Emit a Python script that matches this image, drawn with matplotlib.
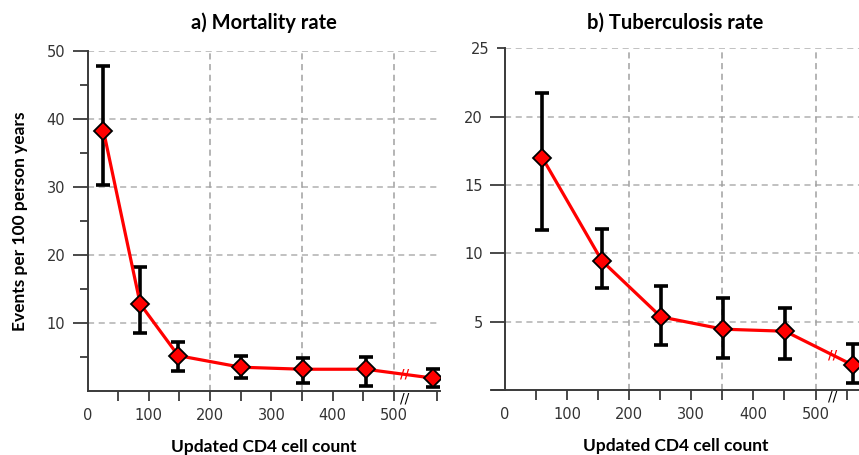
import numpy as np
import matplotlib
matplotlib.use("Agg")
import matplotlib.pyplot as plt

# values
cd4_a = [26, 86, 148, 250, 351, 454, 563]
mort = [38.3, 12.8, 5.2, 3.5, 3.2, 3.2, 1.9]
mort_lo = [30.3, 8.5, 3.0, 1.95, 1.2, 0.7, 0.55]
mort_hi = [47.8, 18.3, 7.25, 5.15, 4.8, 5.05, 3.3]

cd4_b = [60, 156, 251, 351, 451, 561]
tb = [17.0, 9.45, 5.35, 4.45, 4.3, 1.8]
tb_lo = [11.7, 7.45, 3.3, 2.35, 2.3, 0.5]
tb_hi = [21.7, 11.75, 7.6, 6.7, 6.0, 3.35]

xlabels = [0, 100, 200, 300, 400, 500]
vgrid = [200, 350, 500]

bold_font = "Lato"
tick_col = "#333333"
axis_col = "#3a3a3a"

fig = plt.figure(figsize=(8.59, 4.55), dpi=100)
W, H = 859.0, 455.0
ax_a = fig.add_axes([87.5 / W, 64 / H, (440 - 87.5) / W, 340 / H])
ax_b = fig.add_axes([492 / W, 65 / H, (859 - 492) / W, (390 - 48.3) / H])


def draw_panel(ax, x, y, lo, hi, xlim, ylim, hgrid, break_x, end_tick, title, tpad):
    x = np.array(x); y = np.array(y)
    lo = np.array(lo); hi = np.array(hi)
    ax.set_xlim(xlim); ax.set_ylim(ylim)
    for s in ["top", "right"]:
        ax.spines[s].set_visible(False)
    ax.spines["left"].set_position(("data", 0))
    for s in ["left", "bottom"]:
        ax.spines[s].set_color(axis_col)
        ax.spines[s].set_linewidth(1.4)
        ax.spines[s].set_zorder(1)
    ax.spines["left"].set_bounds(0, ylim[1])

    # grid
    ax.hlines(hgrid, 0, xlim[1], colors="#b0b0b0", linestyles=(0, (4, 3)), linewidth=1.1, zorder=0)
    ax.vlines(vgrid, 0, ylim[1], colors="#a0a0a0", linestyles=(0, (4, 3)), linewidth=1.1, zorder=0)

    ax.errorbar(x, y, yerr=[y - lo, hi - y], fmt="none", ecolor="black",
                elinewidth=2.6, capsize=5, capthick=2.6, zorder=2)
    ax.plot(x, y, color="#ff0000", lw=2.3, zorder=3)
    ax.plot(x, y, ls="none", marker="D", ms=9, mfc="#ff0000", mec="black", mew=1.3, zorder=4)

    # break marks on the line and on the axis
    yb = np.interp(break_x, x, y)
    ax.text(break_x, yb, "//", color="#ff0000", fontsize=9, ha="center", va="center",
            fontweight="bold", zorder=5)
    ax.text(break_x, 0, "//", color="black", fontsize=10, ha="center", va="top",
            clip_on=False, zorder=5)

    # ticks
    ax.set_xticks(xlabels)
    ax.set_xticklabels([str(v) for v in xlabels])
    ax.set_xticks(list(range(50, 501, 100)) + [end_tick], minor=True)
    ax.xaxis.get_major_ticks()[0].tick1line.set_visible(False)
    ax.tick_params(axis="x", which="both", length=7, width=1.3, color=axis_col,
                   pad=5, labelsize=10.5, labelcolor=tick_col)
    ax.tick_params(axis="y", which="major", length=11, width=1.3, color=axis_col,
                   pad=5, labelsize=10.5, labelcolor=tick_col)
    ax.tick_params(axis="y", which="minor", length=6, width=1.3, color=axis_col,
                   pad=5, labelsize=10.5, labelcolor=tick_col)

    ax.set_xlabel("Updated CD4 cell count", fontsize=12.5, fontweight="bold",
                  fontfamily=bold_font, labelpad=12)
    ax.set_title(title, fontsize=14.5, fontweight="bold", fontfamily=bold_font, pad=tpad)
    ax.patch.set_alpha(0)


draw_panel(ax_a, cd4_a, mort, mort_lo, mort_hi, (0, 575), (0, 50),
           [10, 20, 30, 40, 50], 518, 570, "a) Mortality rate", 16)
ax_a.set_yticks([10, 20, 30, 40, 50])
ax_a.set_yticks([5, 15, 25, 35, 45], minor=True)
ax_a.set_ylabel("Events per 100 person years", fontsize=12.5, fontweight="bold",
                fontfamily=bold_font, labelpad=13)

draw_panel(ax_b, cd4_b, tb, tb_lo, tb_hi, (-21, 570), (0, 25),
           [5, 10, 15, 20, 25], 527, 551, "b) Tuberculosis rate", 14)
ax_b.set_yticks([0, 5, 10, 15, 20])
ax_b.set_yticklabels(["", "5", "10", "15", "20"])
ax_b.set_yticks([25], minor=True)
ax_b.set_yticklabels(["25"], minor=True)
ax_b.tick_params(axis="y", which="minor", labelsize=10.5, labelcolor=tick_col)
for lab in (ax_a.get_xticklabels() + ax_a.get_yticklabels() + ax_b.get_xticklabels()
            + ax_b.get_yticklabels() + ax_b.get_yticklabels(minor=True)):
    lab.set_fontfamily("DejaVu Sans")
ax_b.spines["bottom"].set_bounds(-21, 570)

fig.savefig("out.png", dpi=100)
